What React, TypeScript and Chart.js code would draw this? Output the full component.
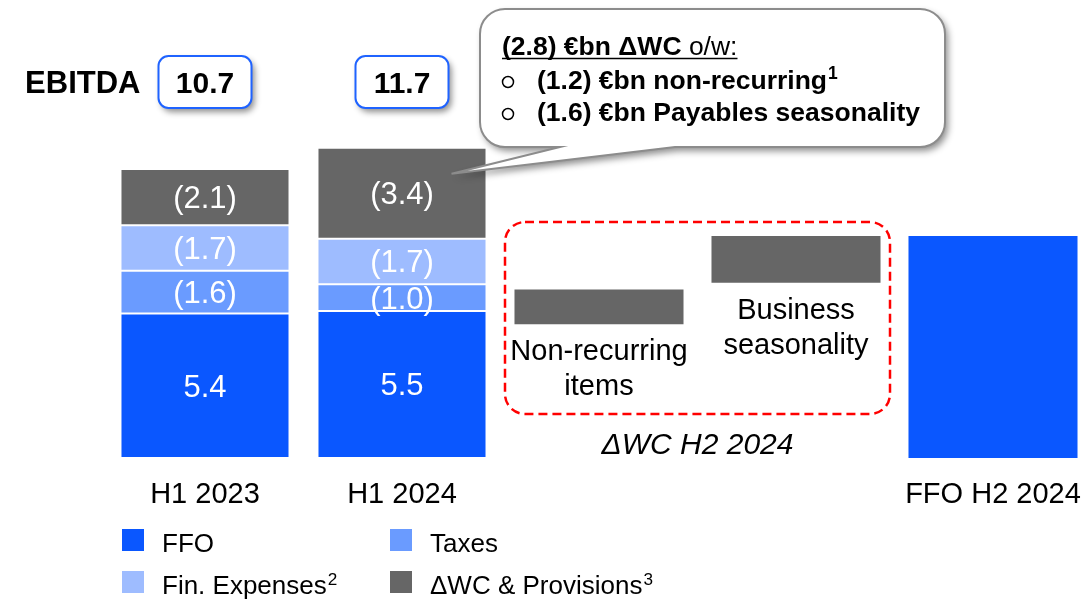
import React, { useEffect, useRef } from "react";
import { Chart, registerables } from "chart.js";

Chart.register(...registerables);

// ---------------- data ----------------
const categories = ["H1 2023", "H1 2024", "Non-recurring items", "Business seasonality", "FFO H2 2024"];
const axisLabels = ["H1 2023", "H1 2024", "", "", "FFO H2 2024"];
const ffo: (number | null)[] = [5.4, 5.5, null, null, null];
const taxes: (number | null)[] = [1.6, 1.0, null, null, null];
const finExpenses: (number | null)[] = [1.7, 1.7, null, null, null];
const wcProvisions: (number | null)[] = [2.1, 3.4, null, null, null];
const wcH2Low: (number | null)[] = [null, null, 5.0, 6.55, null];
const wcH2High: (number | null)[] = [null, null, 6.3, 8.3, null];
const ffoH2: (number | null)[] = [null, null, null, null, 8.3];
const ebitda = [10.7, 11.7];
const seriesNames = ["FFO", "Taxes", "Fin. Expenses²", "ΔWC & Provisions³"];
const seriesColors = ["#0A57FF", "#6A9BFF", "#9EBCFF", "#666666"];
const groupTitle = "ΔWC H2 2024";
const calloutHead = ["(2.8) €bn ΔWC", " o/w:"];
const calloutItems = ["(1.2) €bn non-recurring¹", "(1.6) €bn Payables seasonality"];

const FONT = '"Liberation Sans", Arial, Helvetica, sans-serif';
Chart.defaults.font.family = FONT;

const SUP: Record<string, string> = { "¹": "1", "²": "2", "³": "3" };

// draws text (left aligned) rendering ¹²³ as raised smaller digits
function drawRich(ctx: CanvasRenderingContext2D, text: string, x: number, y: number, size: number, weight: string) {
  let cx = x;
  let buf = "";
  const flush = () => {
    if (!buf) return;
    ctx.font = `${weight}${size}px ${FONT}`;
    ctx.fillText(buf, cx, y);
    cx += ctx.measureText(buf).width;
    buf = "";
  };
  for (const ch of text) {
    if (SUP[ch]) {
      flush();
      ctx.font = `${weight}${size * 0.66}px ${FONT}`;
      ctx.fillText(SUP[ch], cx + 1, y - size * 0.36);
      cx += ctx.measureText(SUP[ch]).width + 1;
    } else {
      buf += ch;
    }
  }
  flush();
}

// stacked segments as floating ranges
const stackSeries = [ffo, taxes, finExpenses, wcProvisions];
function buildRanges() {
  const out: ([number, number] | null)[][] = stackSeries.map(() => []);
  for (let i = 0; i < categories.length; i++) {
    let acc = 0;
    stackSeries.forEach((s, si) => {
      const v = s[i];
      if (v == null) {
        out[si].push(null);
      } else {
        out[si].push([acc, acc + v]);
        acc += v;
      }
    });
  }
  return out;
}

function roundRectPath(ctx: CanvasRenderingContext2D, x: number, y: number, w: number, h: number, r: number) {
  ctx.beginPath();
  ctx.moveTo(x + r, y);
  ctx.arcTo(x + w, y, x + w, y + h, r);
  ctx.arcTo(x + w, y + h, x, y + h, r);
  ctx.arcTo(x, y + h, x, y, r);
  ctx.arcTo(x, y, x + w, y, r);
  ctx.closePath();
}

const overlayPlugin = {
  id: "overlay",
  afterDatasetsDraw(chart: any) {
    const ctx: CanvasRenderingContext2D = chart.ctx;
    ctx.save();
    // value labels in segments
    ctx.font = `31px ${FONT}`;
    ctx.fillStyle = "#ffffff";
    ctx.textAlign = "center";
    ctx.textBaseline = "alphabetic";
    stackSeries.forEach((vals, di) => {
      const meta = chart.getDatasetMeta(di);
      vals.forEach((v, i) => {
        if (v == null) return;
        const el = meta.data[i];
        const mid = (el.y + el.base) / 2;
        const txt = di === 0 ? v.toFixed(1) : `(${v.toFixed(1)})`;
        ctx.fillText(txt, el.x, mid + 11);
      });
    });

    // waterfall labels & dashed group box
    const wMeta = chart.getDatasetMeta(4);
    ctx.fillStyle = "#000000";
    ctx.font = `29px ${FONT}`;
    const xs: number[] = [];
    wcH2Low.forEach((v, i) => {
      if (v == null) return;
      const el = wMeta.data[i];
      xs.push(el.x);
      const bottom = Math.max(el.y, el.base);
      categories[i].split(" ").forEach((line, k) => {
        ctx.fillText(line, el.x, bottom + 36 + k * 35);
      });
    });
    if (xs.length) {
      const mid = (Math.min(...xs) + Math.max(...xs)) / 2;
      const half = 192.5;
      const top = chart.chartArea.top + 85;
      const bot = chart.chartArea.bottom - 44;
      ctx.setLineDash([9, 5]);
      ctx.lineWidth = 2.5;
      ctx.strokeStyle = "#FF0000";
      roundRectPath(ctx, mid - half, top, half * 2, bot - top, 20);
      ctx.stroke();
      ctx.setLineDash([]);
      ctx.font = `italic 30px ${FONT}`;
      ctx.fillText(groupTitle, mid, chart.chartArea.bottom - 4);
    }
    ctx.restore();
  },
  afterDraw(chart: any) {
    const ctx: CanvasRenderingContext2D = chart.ctx;
    ctx.save();
    // EBITDA boxes
    const m0 = chart.getDatasetMeta(0);
    let firstLeft = 0;
    ebitda.forEach((v, i) => {
      const el = m0.data[i];
      const w = 93, h = 52, top = 56;
      const left = el.x - w / 2;
      if (i === 0) firstLeft = left;
      ctx.save();
      ctx.shadowColor = "rgba(0,0,0,0.45)";
      ctx.shadowBlur = 6;
      ctx.shadowOffsetX = 3;
      ctx.shadowOffsetY = 4;
      ctx.fillStyle = "#ffffff";
      roundRectPath(ctx, left, top, w, h, 10);
      ctx.fill();
      ctx.restore();
      ctx.lineWidth = 2;
      ctx.strokeStyle = "#1F63FF";
      roundRectPath(ctx, left, top, w, h, 10);
      ctx.stroke();
      ctx.fillStyle = "#000";
      ctx.font = `bold 30px ${FONT}`;
      ctx.textAlign = "center";
      ctx.textBaseline = "alphabetic";
      ctx.fillText(v.toFixed(1), el.x, top + h / 2 + 11);
    });
    ctx.font = `bold 31px ${FONT}`;
    ctx.textAlign = "right";
    ctx.fillText("EBITDA", firstLeft - 18, 93);

    // callout
    const wc = chart.getDatasetMeta(3).data[1];
    const tipX = wc.x + wc.width / 2 - 35;
    const tipY = wc.y + 26;
    const L = 480, T = 9, R = 945, B = 147, r = 25;
    const path = () => {
      ctx.beginPath();
      ctx.moveTo(L + r, T);
      ctx.arcTo(R, T, R, B, r);
      ctx.arcTo(R, B, L, B, r);
      ctx.lineTo(675, B);
      ctx.lineTo(tipX, tipY);
      ctx.lineTo(560, B);
      ctx.arcTo(L, B, L, T, r);
      ctx.arcTo(L, T, R, T, r);
      ctx.closePath();
    };
    ctx.save();
    ctx.shadowColor = "rgba(0,0,0,0.45)";
    ctx.shadowBlur = 7;
    ctx.shadowOffsetX = 3;
    ctx.shadowOffsetY = 4;
    ctx.fillStyle = "#ffffff";
    path();
    ctx.fill();
    ctx.restore();
    ctx.lineWidth = 2;
    ctx.strokeStyle = "#8C8C8C";
    path();
    ctx.stroke();

    ctx.fillStyle = "#000";
    ctx.textAlign = "left";
    ctx.textBaseline = "alphabetic";
    const x0 = 502;
    ctx.font = `bold 26.5px ${FONT}`;
    ctx.fillText(calloutHead[0], x0, 55);
    const w1 = ctx.measureText(calloutHead[0]).width;
    ctx.font = `26.5px ${FONT}`;
    ctx.fillText(calloutHead[1], x0 + w1, 55);
    const w2 = ctx.measureText(calloutHead[1]).width;
    ctx.lineWidth = 1.6;
    ctx.strokeStyle = "#000";
    ctx.beginPath();
    ctx.moveTo(x0, 58.5);
    ctx.lineTo(x0 + w1 + w2, 58.5);
    ctx.stroke();
    calloutItems.forEach((t, k) => {
      const by = 89 + k * 32;
      ctx.beginPath();
      ctx.lineWidth = 1.5;
      ctx.arc(508, by - 7, 5.5, 0, Math.PI * 2);
      ctx.stroke();
      drawRich(ctx, t, 537, by, 26.5, "bold ");
    });

    // legend
    const legendPos = [
      [122, 529],
      [390, 529],
      [122, 571],
      [390, 571],
    ];
    seriesNames.forEach((name, i) => {
      const [lx, ly] = legendPos[i];
      ctx.fillStyle = seriesColors[i];
      ctx.fillRect(lx, ly, 22, 22);
      ctx.fillStyle = "#000";
      drawRich(ctx, name, lx + 40, ly + 23, 26, "");
    });
    ctx.restore();
  },
};

export default function App() {
  const ref = useRef<HTMLCanvasElement>(null);
  useEffect(() => {
    if (!ref.current) return;
    const ranges = buildRanges();
    const common = {
      grouped: false,
      clip: false as any,
      borderColor: "#ffffff",
      borderWidth: 1,
      borderSkipped: false as any,
      categoryPercentage: 1,
      barPercentage: 0.858,
    };
    const datasets: any[] = seriesNames.map((name, i) => ({
      ...common,
      label: name,
      data: ranges[i],
      backgroundColor: seriesColors[i],
    }));
    datasets.push({
      ...common,
      label: groupTitle,
      data: wcH2Low.map((v, i) => (v == null || wcH2High[i] == null ? null : [v, wcH2High[i] as number])),
      backgroundColor: seriesColors[3],
      borderWidth: 0,
    });
    datasets.push({
      ...common,
      label: "FFO H2 2024",
      data: ffoH2.map((v) => (v == null ? null : [0, v])),
      backgroundColor: seriesColors[0],
      borderWidth: 0,
    });
    const chart = new Chart(ref.current, {
      type: "bar",
      data: { labels: categories, datasets },
      options: {
        responsive: false,
        animation: false,
        events: [],
        layout: { padding: { left: 205, right: 91, top: 137, bottom: 86.2 } },
        plugins: { legend: { display: false }, tooltip: { enabled: false } },
        scales: {
          x: {
            offset: false,
            grid: { display: true, color: "rgba(0,0,0,0)", drawOnChartArea: false, drawTicks: true, tickLength: 20 },
            border: { display: false },
            ticks: {
              autoSkip: false,
              maxRotation: 0,
              minRotation: 0,
              padding: 0,
              color: "#000",
              font: { size: 29, family: FONT },
              callback: (_v: any, i: number) => axisLabels[i],
            },
          },
          y: { display: false, min: 0, max: 12 },
        },
      },
      plugins: [overlayPlugin],
    } as any);
    return () => chart.destroy();
  }, []);
  return (
    <div style={{ position: "absolute", left: 0, top: 0, width: 1084, height: 599, background: "#fff" }}>
      <canvas ref={ref} width={1084} height={599} style={{ display: "block" }} />
    </div>
  );
}
